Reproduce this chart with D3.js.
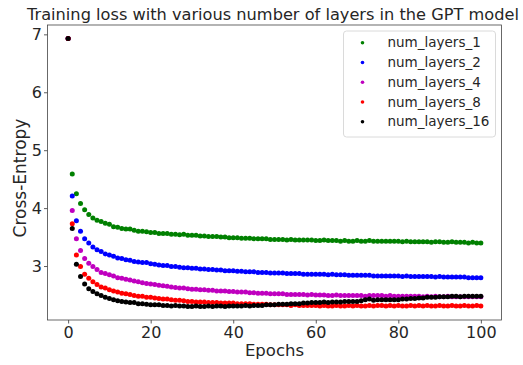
<!DOCTYPE html>
<html>
<head>
<meta charset="utf-8">
<script src="https://cdn.jsdelivr.net/npm/d3@7"></script>
<style>
  body { margin: 0; background: #fff; }
  text { font-family: "DejaVu Sans", sans-serif; fill: #262626; }
</style>
</head>
<body>
<div id="chart"></div>
<script>
// epochs 0..100
const epochs = d3.range(0, 101);

const seriesNames = ['num_layers_1', 'num_layers_2', 'num_layers_4', 'num_layers_8', 'num_layers_16'];
const seriesColors = ['#008000', '#0000ff', '#bf00bf', '#ff0000', '#000000'];

const loss1 = [6.93, 4.59, 4.25, 4.08, 3.97, 3.89, 3.83, 3.79, 3.77, 3.74,
  3.72, 3.68, 3.67, 3.65, 3.64, 3.64, 3.62, 3.60, 3.60, 3.59,
  3.58, 3.58, 3.56, 3.56, 3.56, 3.55, 3.55, 3.54, 3.55, 3.53,
  3.53, 3.53, 3.52, 3.52, 3.51, 3.51, 3.51, 3.50, 3.50, 3.49,
  3.49, 3.49, 3.48, 3.48, 3.48, 3.47, 3.47, 3.47, 3.47, 3.46,
  3.46, 3.46, 3.46, 3.45, 3.46, 3.45, 3.45, 3.45, 3.45, 3.45,
  3.44, 3.44, 3.45, 3.44, 3.44, 3.44, 3.43, 3.44, 3.43, 3.43,
  3.44, 3.43, 3.43, 3.44, 3.43, 3.43, 3.43, 3.43, 3.43, 3.43,
  3.43, 3.42, 3.43, 3.42, 3.42, 3.42, 3.42, 3.42, 3.41, 3.42,
  3.42, 3.41, 3.41, 3.42, 3.41, 3.41, 3.41, 3.40, 3.41, 3.40, 3.40];

const loss2 = [6.93, 4.21, 3.78, 3.60, 3.47, 3.40, 3.33, 3.28, 3.25, 3.21,
  3.19, 3.17, 3.14, 3.13, 3.11, 3.10, 3.08, 3.07, 3.06, 3.06,
  3.04, 3.03, 3.02, 3.01, 3.01, 2.99, 2.99, 2.98, 2.97, 2.97,
  2.96, 2.96, 2.95, 2.95, 2.94, 2.94, 2.93, 2.93, 2.92, 2.92,
  2.92, 2.91, 2.91, 2.90, 2.90, 2.90, 2.89, 2.89, 2.89, 2.88,
  2.88, 2.88, 2.88, 2.87, 2.87, 2.87, 2.87, 2.86, 2.86, 2.86,
  2.86, 2.86, 2.86, 2.85, 2.86, 2.85, 2.85, 2.85, 2.84, 2.84,
  2.84, 2.84, 2.84, 2.84, 2.83, 2.83, 2.83, 2.83, 2.83, 2.83,
  2.83, 2.82, 2.83, 2.82, 2.82, 2.82, 2.82, 2.82, 2.82, 2.81,
  2.82, 2.81, 2.81, 2.81, 2.81, 2.81, 2.81, 2.80, 2.80, 2.80, 2.80];

const loss4 = [6.93, 3.96, 3.47, 3.27, 3.13, 3.05, 2.99, 2.94, 2.89, 2.87,
  2.85, 2.83, 2.80, 2.79, 2.77, 2.76, 2.74, 2.73, 2.71, 2.70,
  2.69, 2.68, 2.67, 2.66, 2.65, 2.64, 2.63, 2.62, 2.62, 2.61,
  2.60, 2.60, 2.59, 2.59, 2.58, 2.58, 2.57, 2.57, 2.57, 2.56,
  2.56, 2.55, 2.55, 2.55, 2.54, 2.54, 2.53, 2.53, 2.53, 2.52,
  2.52, 2.52, 2.52, 2.51, 2.51, 2.51, 2.51, 2.51, 2.50, 2.51,
  2.50, 2.50, 2.50, 2.49, 2.49, 2.50, 2.49, 2.49, 2.49, 2.49,
  2.49, 2.49, 2.48, 2.49, 2.49, 2.49, 2.49, 2.48, 2.49, 2.48,
  2.48, 2.48, 2.48, 2.48, 2.48, 2.48, 2.47, 2.48, 2.47, 2.48,
  2.47, 2.47, 2.48, 2.47, 2.47, 2.47, 2.47, 2.47, 2.47, 2.47, 2.47];

const loss8 = [6.93, 3.73, 3.19, 2.99, 2.86, 2.79, 2.73, 2.68, 2.64, 2.62,
  2.59, 2.57, 2.55, 2.53, 2.52, 2.51, 2.49, 2.48, 2.48, 2.46,
  2.46, 2.45, 2.44, 2.43, 2.43, 2.42, 2.41, 2.41, 2.40, 2.39,
  2.39, 2.38, 2.38, 2.38, 2.37, 2.37, 2.37, 2.36, 2.36, 2.36,
  2.36, 2.35, 2.35, 2.35, 2.35, 2.34, 2.34, 2.34, 2.34, 2.33,
  2.33, 2.33, 2.33, 2.33, 2.32, 2.33, 2.32, 2.32, 2.32, 2.32,
  2.32, 2.31, 2.32, 2.31, 2.31, 2.32, 2.31, 2.31, 2.32, 2.31,
  2.32, 2.31, 2.31, 2.32, 2.31, 2.32, 2.32, 2.31, 2.32, 2.31,
  2.32, 2.31, 2.31, 2.32, 2.31, 2.32, 2.31, 2.32, 2.31, 2.31,
  2.32, 2.31, 2.31, 2.32, 2.31, 2.31, 2.32, 2.31, 2.31, 2.32, 2.31];

const loss16 = [6.93, 3.65, 3.03, 2.82, 2.69, 2.61, 2.56, 2.52, 2.49, 2.46,
  2.44, 2.42, 2.40, 2.39, 2.38, 2.37, 2.37, 2.35, 2.35, 2.34,
  2.33, 2.33, 2.33, 2.32, 2.32, 2.31, 2.32, 2.31, 2.31, 2.30,
  2.30, 2.31, 2.30, 2.30, 2.31, 2.30, 2.31, 2.31, 2.30, 2.31,
  2.31, 2.31, 2.31, 2.32, 2.31, 2.32, 2.32, 2.32, 2.33, 2.33,
  2.33, 2.34, 2.34, 2.34, 2.35, 2.35, 2.35, 2.36, 2.36, 2.37,
  2.37, 2.37, 2.38, 2.37, 2.38, 2.38, 2.38, 2.39, 2.39, 2.39,
  2.39, 2.40, 2.42, 2.43, 2.41, 2.42, 2.42, 2.42, 2.42, 2.42,
  2.42, 2.43, 2.43, 2.44, 2.44, 2.45, 2.45, 2.46, 2.46, 2.46,
  2.47, 2.47, 2.47, 2.48, 2.48, 2.47, 2.48, 2.48, 2.48, 2.48, 2.48];

const seriesValues = [loss1, loss2, loss4, loss8, loss16];

const xTicks = [0, 20, 40, 60, 80, 100];
const yTicks = [3, 4, 5, 6, 7];

const width = 523, height = 365;
const margin = { top: 25, right: 21.5, bottom: 45, left: 47.5 };

const svg = d3.select('#chart').append('svg')
  .attr('width', width)
  .attr('height', height);

// matplotlib style 5% data margins
const allVals = seriesValues.flat();
const [yMin, yMax] = d3.extent(allVals);
const yPad = (yMax - yMin) * 0.05;

const x = d3.scaleLinear()
  .domain([-5, 105])
  .range([margin.left, width - margin.right]);

const y = d3.scaleLinear()
  .domain([yMin - yPad, yMax + yPad])
  .range([height - margin.bottom, margin.top]);

const plotBottom = height - margin.bottom;

// x axis
svg.append('g')
  .attr('transform', `translate(0,${plotBottom})`)
  .call(d3.axisBottom(x).tickValues(xTicks).tickFormat(d3.format('d')).tickSize(3.5).tickPadding(3))
  .call(g => g.select('.domain').remove())
  .call(g => g.selectAll('.tick line').attr('stroke', '#333').attr('stroke-width', 0.8))
  .call(g => g.selectAll('.tick text').attr('font-size', 16).attr('fill', '#262626')
    .attr('font-family', '"DejaVu Sans", sans-serif'));

// y axis
svg.append('g')
  .attr('transform', `translate(${margin.left},0)`)
  .call(d3.axisLeft(y).tickValues(yTicks).tickFormat(d3.format('d')).tickSize(3.5).tickPadding(2))
  .call(g => g.select('.domain').remove())
  .call(g => g.selectAll('.tick line').attr('stroke', '#333').attr('stroke-width', 0.8))
  .call(g => g.selectAll('.tick text').attr('font-size', 16).attr('fill', '#262626')
    .attr('font-family', '"DejaVu Sans", sans-serif'));

// spines
svg.append('rect')
  .attr('x', margin.left)
  .attr('y', margin.top)
  .attr('width', width - margin.left - margin.right)
  .attr('height', height - margin.top - margin.bottom)
  .attr('fill', 'none')
  .attr('stroke', '#444')
  .attr('stroke-width', 0.8);

// dots
seriesValues.forEach((vals, i) => {
  svg.append('g')
    .selectAll('circle')
    .data(epochs.map((e, j) => ({ e, v: vals[j] })))
    .join('circle')
      .attr('cx', d => x(d.e))
      .attr('cy', d => y(d.v))
      .attr('r', 2.5)
      .attr('fill', seriesColors[i]);
});

// title
svg.append('text')
  .attr('x', (margin.left + width - margin.right) / 2 - 1.5)
  .attr('y', 19.5)
  .attr('text-anchor', 'middle')
  .attr('font-size', 16.2)
  .text('Training loss with various number of layers in the GPT model');

// axis labels
svg.append('text')
  .attr('x', (margin.left + width - margin.right) / 2)
  .attr('y', 356)
  .attr('text-anchor', 'middle')
  .attr('font-size', 16.5)
  .text('Epochs');

svg.append('text')
  .attr('transform', `translate(26,178) rotate(-90)`)
  .attr('text-anchor', 'middle')
  .attr('font-size', 17)
  .text('Cross-Entropy');

// legend
const legend = svg.append('g').attr('transform', 'translate(343.5,31)');
legend.append('rect')
  .attr('width', 152)
  .attr('height', 106)
  .attr('rx', 3)
  .attr('fill', '#fff')
  .attr('fill-opacity', 0.8)
  .attr('stroke', '#d0d0d0')
  .attr('stroke-width', 0.8);

const rows = legend.selectAll('g.row')
  .data(seriesNames)
  .join('g')
    .attr('class', 'row')
    .attr('transform', (d, i) => `translate(0,${11.7 + i * 19.75})`);

rows.append('circle')
  .attr('cx', 19)
  .attr('cy', 0)
  .attr('r', 1.8)
  .attr('fill', (d, i) => seriesColors[i]);

rows.append('text')
  .attr('x', 44)
  .attr('dy', '0.35em')
  .attr('font-size', 13.5)
  .text(d => d);
</script>
</body>
</html>
